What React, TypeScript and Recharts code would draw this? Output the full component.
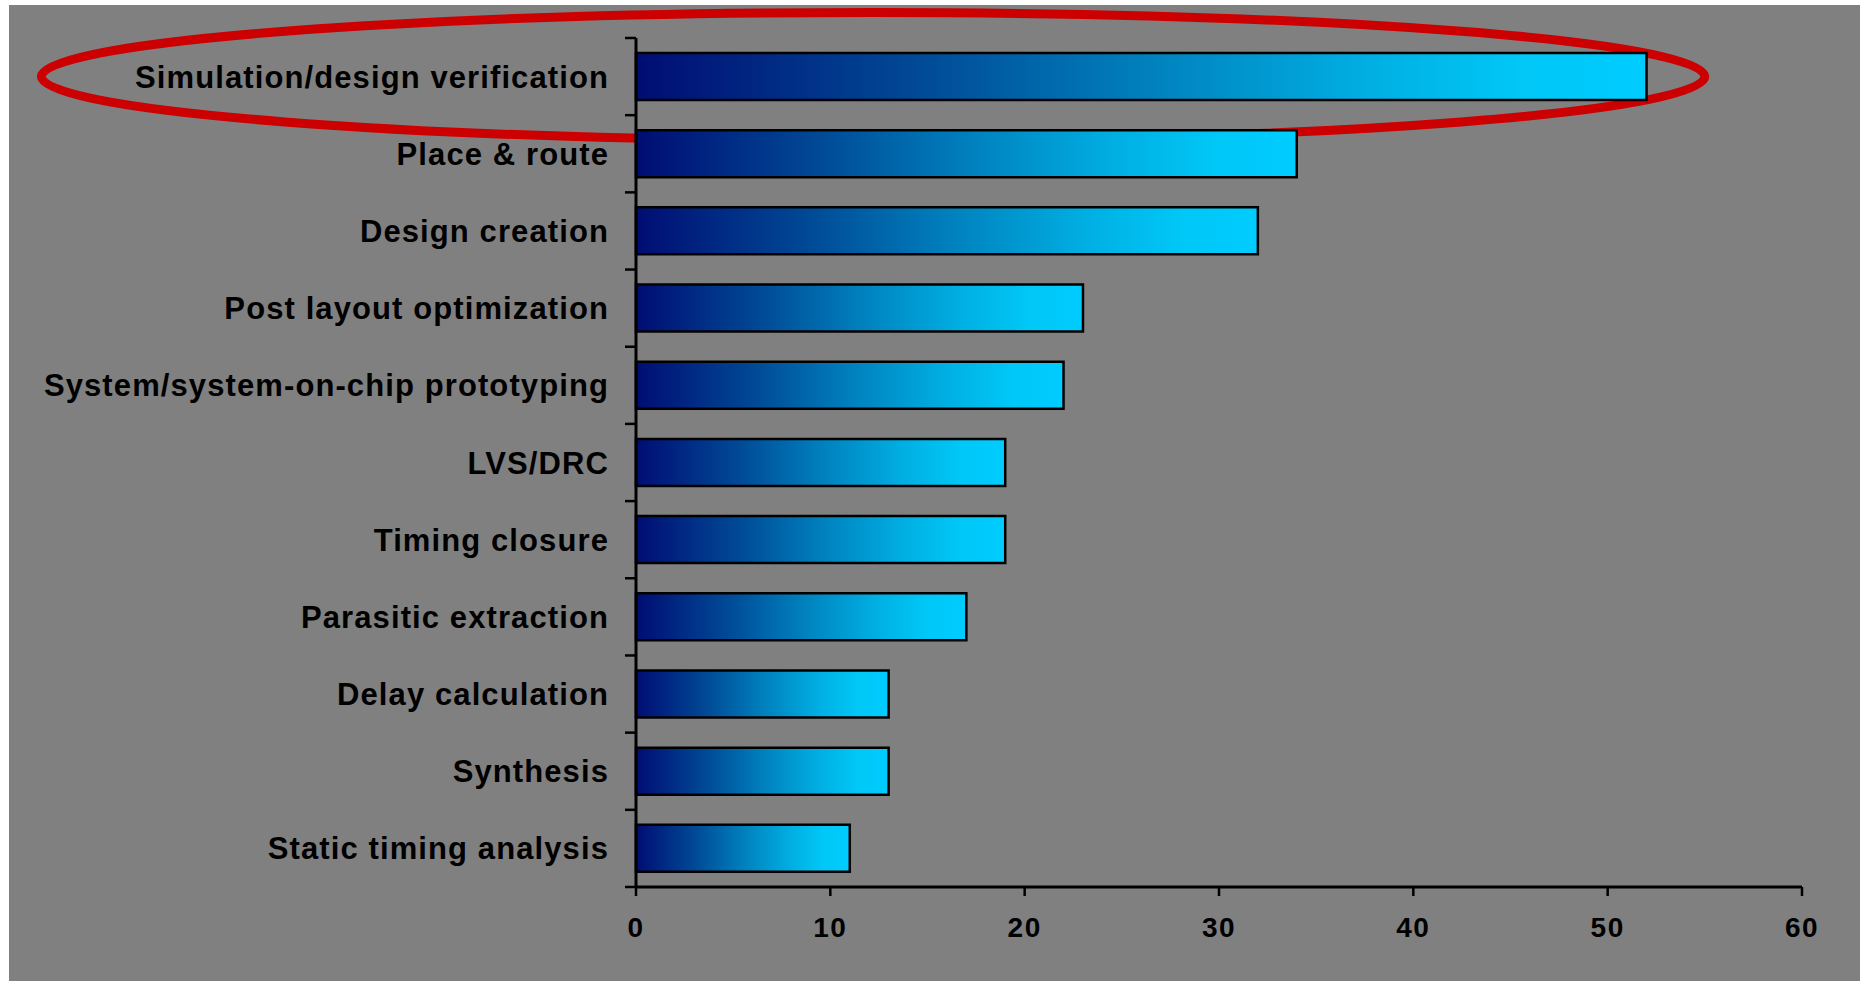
import React from 'react';
import { BarChart, Bar, XAxis, YAxis, ReferenceArea } from 'recharts';

// Survey: which design steps take the most time
const categories = [
  'Simulation/design verification',
  'Place & route',
  'Design creation',
  'Post layout optimization',
  'System/system-on-chip prototyping',
  'LVS/DRC',
  'Timing closure',
  'Parasitic extraction',
  'Delay calculation',
  'Synthesis',
  'Static timing analysis',
];
const values = [52, 34, 32, 23, 22, 19, 19, 17, 13, 13, 11];
const xTicks = [0, 10, 20, 30, 40, 50, 60];

// Horizontal extent of the highlight ring, in axis units
const highlightFrom = -30.6;
const highlightTo = 55;

const data = categories.map((name, i) => ({ name, value: values[i] }));

const FONT = '"Liberation Sans", Arial, Helvetica, sans-serif';
const Y_TICK_LEN = 11;
const Y_TICK_GAP = 16;

// Category label plus tick marks on the band boundaries
const CategoryTick = (props: any) => {
  const { x, y, payload, index } = props;
  const half = payload && payload.offset ? payload.offset : 0;
  const axisX = x + Y_TICK_GAP + Y_TICK_LEN;
  const last = index === categories.length - 1;
  return (
    <g>
      <line x1={axisX - Y_TICK_LEN} x2={axisX} y1={y - half} y2={y - half} stroke="#000" strokeWidth={2.5} />
      {last && (
        <line x1={axisX - Y_TICK_LEN} x2={axisX} y1={y + half} y2={y + half} stroke="#000" strokeWidth={2.5} />
      )}
      <text
        x={x}
        y={y}
        dy="0.355em"
        textAnchor="end"
        fill="#000"
        fontFamily={FONT}
        fontWeight="bold"
        fontSize={31}
        letterSpacing="1.1px"
      >
        {payload.value}
      </text>
    </g>
  );
};

const Ring = (props: any) => {
  const { x, y, width, height } = props;
  return (
    <ellipse
      cx={x + width / 2}
      cy={y + height / 2}
      rx={width / 2}
      ry={height * 0.83}
      fill="none"
      stroke="#cc0000"
      strokeWidth={9}
    />
  );
};

export default function App() {
  return (
    <div
      style={{
        position: 'absolute',
        left: 9,
        top: 5,
        width: 1851,
        height: 976,
        background: '#808080',
      }}
    >
      <BarChart
        width={1851}
        height={976}
        data={data}
        layout="vertical"
        margin={{ top: 33, right: 58, left: 0, bottom: 0 }}
      >
        <defs>
          <linearGradient id="barFill" x1="0" y1="0" x2="1" y2="0">
            <stop offset="0%" stopColor="#000d73" />
            <stop offset="28%" stopColor="#004a96" />
            <stop offset="52%" stopColor="#0084c0" />
            <stop offset="72%" stopColor="#00aee2" />
            <stop offset="88%" stopColor="#00c8f7" />
            <stop offset="100%" stopColor="#00ccff" />
          </linearGradient>
        </defs>
        <XAxis
          type="number"
          domain={[0, 60]}
          ticks={xTicks}
          height={94}
          tickSize={9}
          tickMargin={21}
          axisLine={{ stroke: '#000', strokeWidth: 3 }}
          tickLine={{ stroke: '#000', strokeWidth: 2.5 }}
          tick={{ fill: '#000', fontFamily: FONT, fontWeight: 'bold', fontSize: 28, letterSpacing: '1.5px' }}
        />
        <YAxis
          type="category"
          dataKey="name"
          width={627}
          tickSize={Y_TICK_LEN}
          tickMargin={Y_TICK_GAP}
          interval={0}
          axisLine={{ stroke: '#000', strokeWidth: 3 }}
          tickLine={false}
          tick={<CategoryTick />}
        />
        <Bar
          dataKey="value"
          barSize={47}
          fill="url(#barFill)"
          stroke="#000"
          strokeWidth={2.5}
          isAnimationActive={false}
        />
        <ReferenceArea
          y1={categories[0]}
          y2={categories[0]}
          x1={highlightFrom}
          x2={highlightTo}
          ifOverflow="visible"
          shape={<Ring />}
        />
      </BarChart>
    </div>
  );
}
